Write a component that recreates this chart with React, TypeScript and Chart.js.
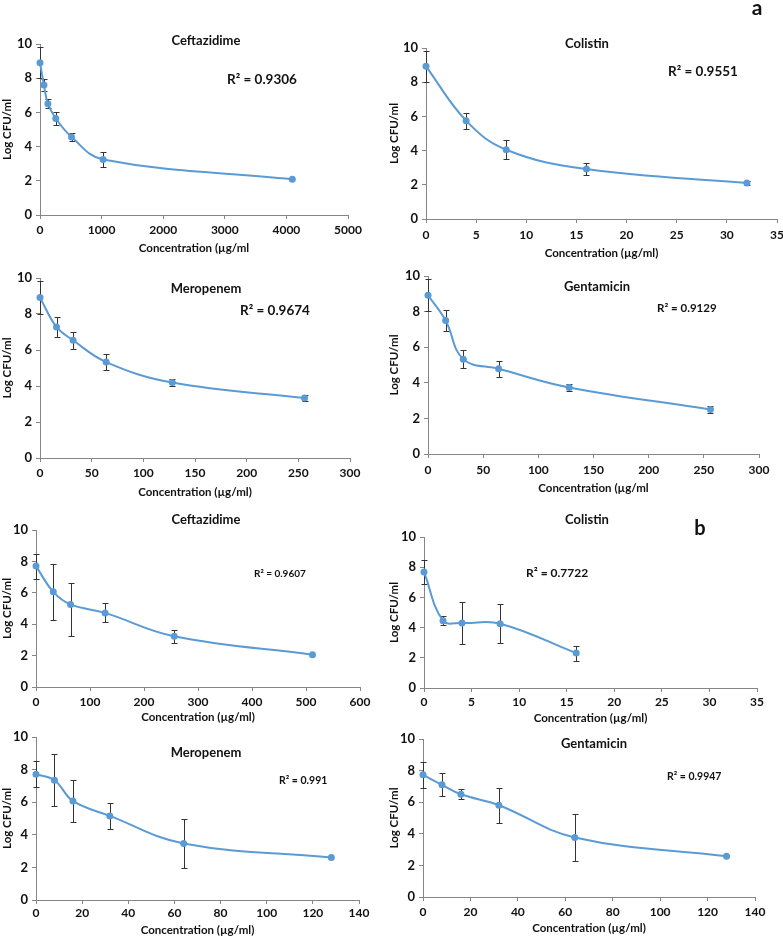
import React, { useEffect, useRef } from "react";
import { Chart, registerables } from "chart.js";

Chart.register(...registerables);

const FONT = "Lato, 'Open Sans', 'DejaVu Sans', sans-serif";
const BLUE = "#5B9BD5";
const AXIS = "#868686";
const TEXT = "#111111";

// ---------- DATA (a) ----------
const ceftA_conc = [0, 64, 128, 256, 512, 1024, 4096];
const ceftA_log = [8.91, 7.6, 6.51, 5.65, 4.56, 3.25, 2.09];
const ceftA_err = [0.9, 0.37, 0.27, 0.39, 0.24, 0.45, 0];

const colA_conc = [0, 4, 8, 16, 32];
const colA_log = [8.93, 5.75, 4.05, 2.92, 2.1];
const colA_err = [0.9, 0.46, 0.55, 0.33, 0.13];

const merA_conc = [0, 16, 32, 64, 128, 256];
const merA_log = [8.91, 7.28, 6.54, 5.33, 4.19, 3.33];
const merA_err = [0.9, 0.57, 0.47, 0.43, 0.18, 0.19];

const genA_conc = [0, 16, 32, 64, 128, 256];
const genA_log = [8.92, 7.5, 5.33, 4.79, 3.74, 2.5];
const genA_err = [0.9, 0.57, 0.5, 0.44, 0.18, 0.19];

// ---------- DATA (b) ----------
// error entries: symmetric number or [minus, plus]
const ceftB_conc = [0, 32, 64, 128, 256, 512];
const ceftB_log = [7.7, 6.06, 5.26, 4.72, 3.23, 2.06];
const ceftB_err: (number | [number, number])[] = [0.8, 1.79, [2.03, 1.38], 0.6, [0.42, 0.39], 0];

const colB_conc = [0, 2, 4, 8, 16];
const colB_log = [7.69, 4.46, 4.31, 4.26, 2.31];
const colB_err = [0.8, 0.28, 1.4, 1.28, 0.5];

const merB_conc = [0, 8, 16, 32, 64, 128];
const merB_log = [7.71, 7.35, 6.08, 5.16, 3.47, 2.61];
const merB_err = [0.8, 1.61, 1.31, 0.8, 1.5, 0];

const genB_conc = [0, 8, 16, 32, 64, 128];
const genB_log = [7.73, 7.1, 6.5, 5.81, 3.77, 2.58];
const genB_err = [0.8, 0.72, 0.32, 1.1, 1.51, 0];

// ---------- LABELS ----------
const yTitle = "Log CFU/ml";
const xTitleOpen = "Concentration (µg/ml";
const xTitleClosed = "Concentration (µg/ml)";
const yTicks = { min: 0, max: 10, step: 2 };

type Err = number | [number, number];

interface Spec {
  conc: number[];
  log: number[];
  err: Err[];
  xMax: number;
  xStep: number;
  L: number; R: number; T: number; B: number;
  cLeft: number; cRight: number;
  title: string; tx: number; ty: number;
  r2: string; rx: number; ry: number; rSize: number;
  xTitle: string; xTitleOff: number; tickOff: number;
}

const panels: Spec[] = [
  { conc: ceftA_conc, log: ceftA_log, err: ceftA_err, xMax: 5000, xStep: 1000,
    L: 40, R: 348, T: 44, B: 215, cLeft: 0, cRight: 386,
    title: "Ceftazidime", tx: 206, ty: 40, r2: "R² = 0.9306", rx: 227, ry: 80, rSize: 13.5,
    xTitle: xTitleOpen, xTitleOff: 33, tickOff: 15 },
  { conc: colA_conc, log: colA_log, err: colA_err, xMax: 35, xStep: 5,
    L: 426, R: 777, T: 48, B: 219, cLeft: 387, cRight: 783,
    title: "Colistin", tx: 587, ty: 43, r2: "R² = 0.9551", rx: 668, ry: 72, rSize: 13.5,
    xTitle: xTitleClosed, xTitleOff: 34, tickOff: 16 },
  { conc: merA_conc, log: merA_log, err: merA_err, xMax: 300, xStep: 50,
    L: 40, R: 350, T: 278, B: 458, cLeft: 0, cRight: 386,
    title: "Meropenem", tx: 206, ty: 288, r2: "R² = 0.9674", rx: 240, ry: 311, rSize: 13.5,
    xTitle: xTitleClosed, xTitleOff: 34, tickOff: 15 },
  { conc: genA_conc, log: genA_log, err: genA_err, xMax: 300, xStep: 50,
    L: 428, R: 759, T: 276, B: 454, cLeft: 387, cRight: 783,
    title: "Gentamicin", tx: 597, ty: 286, r2: "R² = 0.9129", rx: 657, ry: 308, rSize: 11.5,
    xTitle: xTitleOpen, xTitleOff: 34, tickOff: 16 },
  { conc: ceftB_conc, log: ceftB_log, err: ceftB_err, xMax: 600, xStep: 100,
    L: 36, R: 360, T: 530, B: 687, cLeft: 0, cRight: 386,
    title: "Ceftazidime", tx: 206, ty: 519, r2: "R² = 0.9607", rx: 254, ry: 573, rSize: 10,
    xTitle: xTitleClosed, xTitleOff: 30, tickOff: 15 },
  { conc: colB_conc, log: colB_log, err: colB_err, xMax: 35, xStep: 5,
    L: 424, R: 757, T: 537, B: 688, cLeft: 387, cRight: 783,
    title: "Colistin", tx: 587, ty: 519, r2: "R² = 0.7722", rx: 526, ry: 573, rSize: 12,
    xTitle: xTitleClosed, xTitleOff: 30, tickOff: 14 },
  { conc: merB_conc, log: merB_log, err: merB_err, xMax: 140, xStep: 20,
    L: 36, R: 359, T: 737, B: 900, cLeft: 0, cRight: 386,
    title: "Meropenem", tx: 206, ty: 752, r2: "R² = 0.991", rx: 279, ry: 780, rSize: 10.5,
    xTitle: xTitleClosed, xTitleOff: 30, tickOff: 13 },
  { conc: genB_conc, log: genB_log, err: genB_err, xMax: 140, xStep: 20,
    L: 423, R: 755, T: 739, B: 897, cLeft: 387, cRight: 783,
    title: "Gentamicin", tx: 594, ty: 743, r2: "R² = 0.9947", rx: 667, ry: 776, rSize: 10.5,
    xTitle: xTitleClosed, xTitleOff: 31, tickOff: 15 },
];

const PAD_TOP = 12;
const X_AXIS_H = 40;
const TICK_FONT = 12;
const TITLE_FONT = 11.5;

const errorBarPlugin = {
  id: "errorBars",
  beforeDatasetsDraw(chart: any, _args: any, opts: any) {
    const errs: Err[] = opts && opts.errors;
    if (!errs) return;
    const data = chart.data.datasets[0].data as { x: number; y: number }[];
    const xs = chart.scales.x;
    const ys = chart.scales.y;
    const ctx = chart.ctx as CanvasRenderingContext2D;
    ctx.save();
    ctx.strokeStyle = "#333333";
    ctx.lineWidth = 1;
    data.forEach((p, i) => {
      const e = errs[i];
      const [dn, up] = Array.isArray(e) ? e : [e, e];
      if (!dn && !up) return;
      const px = Math.round(xs.getPixelForValue(p.x)) + 0.5;
      const y1 = Math.round(ys.getPixelForValue(p.y + up)) + 0.5;
      const y2 = Math.round(ys.getPixelForValue(p.y - dn)) + 0.5;
      ctx.beginPath();
      ctx.moveTo(px, y1);
      ctx.lineTo(px, y2);
      ctx.moveTo(px - 3, y1);
      ctx.lineTo(px + 3, y1);
      ctx.moveTo(px - 3, y2);
      ctx.lineTo(px + 3, y2);
      ctx.stroke();
    });
    ctx.restore();
  },
};

function Panel({ s }: { s: Spec }) {
  const ref = useRef<HTMLCanvasElement>(null);
  const top = s.T - PAD_TOP;
  const width = s.cRight - s.cLeft;
  const height = s.B + X_AXIS_H - top;

  useEffect(() => {
    const lh = TICK_FONT * 1.2;
    const tlh = TITLE_FONT * 1.2;
    const chart = new Chart(ref.current as HTMLCanvasElement, {
      type: "scatter",
      data: {
        datasets: [
          {
            data: s.conc.map((c, i) => ({ x: c, y: s.log[i] })),
            showLine: true,
            borderColor: BLUE,
            backgroundColor: BLUE,
            borderWidth: 2,
            tension: 0.4,
            pointRadius: 3.5,
            pointBorderWidth: 0,
            pointBackgroundColor: BLUE,
            clip: false,
          } as any,
        ],
      },
      options: {
        responsive: false,
        animation: false,
        devicePixelRatio: 1,
        layout: { padding: { top: PAD_TOP, right: s.cRight - s.R, left: 0, bottom: 0 } },
        plugins: {
          legend: { display: false },
          tooltip: { enabled: false },
          errorBars: { errors: s.err },
        } as any,
        scales: {
          x: {
            type: "linear",
            min: 0,
            max: s.xMax,
            ticks: {
              stepSize: s.xStep,
              autoSkip: false,
              maxRotation: 0,
              padding: s.tickOff - 4 - lh / 2,
              color: TEXT,
              font: { family: FONT, size: TICK_FONT, weight: "bold" },
              callback: (v: any) => String(v),
            },
            grid: { display: true, drawOnChartArea: false, drawTicks: true, tickLength: 4, color: AXIS },
            border: { display: true, color: AXIS, width: 1 },
            title: {
              display: true,
              text: s.xTitle,
              color: TEXT,
              font: { family: FONT, size: TITLE_FONT, weight: "bold" },
              padding: { top: 0, bottom: X_AXIS_H - s.xTitleOff - tlh / 2 },
            },
            afterFit: (sc: any) => {
              sc.height = X_AXIS_H;
              sc.paddingLeft = 0;
              sc.paddingRight = 0;
            },
          },
          y: {
            type: "linear",
            min: yTicks.min,
            max: yTicks.max,
            ticks: {
              stepSize: yTicks.step,
              padding: 4,
              color: TEXT,
              font: { family: FONT, size: TICK_FONT + 1, weight: "bold" },
              callback: (v: any) => String(v),
            },
            grid: { display: true, drawOnChartArea: false, drawTicks: true, tickLength: 4, color: AXIS },
            border: { display: true, color: AXIS, width: 1 },
            title: {
              display: true,
              text: yTitle,
              color: TEXT,
              font: { family: FONT, size: TITLE_FONT, weight: "bold" },
              padding: { top: 0, bottom: 0 },
            },
            afterFit: (sc: any) => {
              sc.width = s.L - s.cLeft;
              sc.paddingTop = 0;
              sc.paddingBottom = 0;
            },
          },
        },
      } as any,
      plugins: [errorBarPlugin as any],
    });
    return () => chart.destroy();
  }, [s]);

  return (
    <>
      <canvas
        ref={ref}
        width={width}
        height={height}
        style={{ position: "absolute", left: s.cLeft, top, width, height }}
      />
      <div
        style={{
          position: "absolute", left: s.tx, top: s.ty, transform: "translate(-50%, -50%)",
          fontFamily: FONT, fontWeight: 700, fontSize: 13, color: TEXT, whiteSpace: "nowrap", lineHeight: 1,
        }}
      >
        {s.title}
      </div>
      <div
        style={{
          position: "absolute", left: s.rx, top: s.ry, transform: "translate(0, -50%)",
          fontFamily: FONT, fontWeight: 700, fontSize: s.rSize, color: TEXT, whiteSpace: "nowrap", lineHeight: 1,
        }}
      >
        {s.r2}
      </div>
    </>
  );
}

export default function App() {
  return (
    <div
      style={{
        position: "absolute", left: 0, top: 0, width: 783, height: 936,
        overflow: "hidden", background: "#fff",
      }}
    >
      {panels.map((s, i) => (
        <Panel key={i} s={s} />
      ))}
      <div style={{ position: "absolute", left: 757, top: 6, transform: "translate(-50%, -50%)", fontFamily: FONT, fontWeight: 700, fontSize: 21, color: TEXT, lineHeight: 1 }}>a</div>
      <div style={{ position: "absolute", left: 700, top: 527, transform: "translate(-50%, -50%)", fontFamily: FONT, fontWeight: 700, fontSize: 20, color: TEXT, lineHeight: 1 }}>b</div>
    </div>
  );
}
